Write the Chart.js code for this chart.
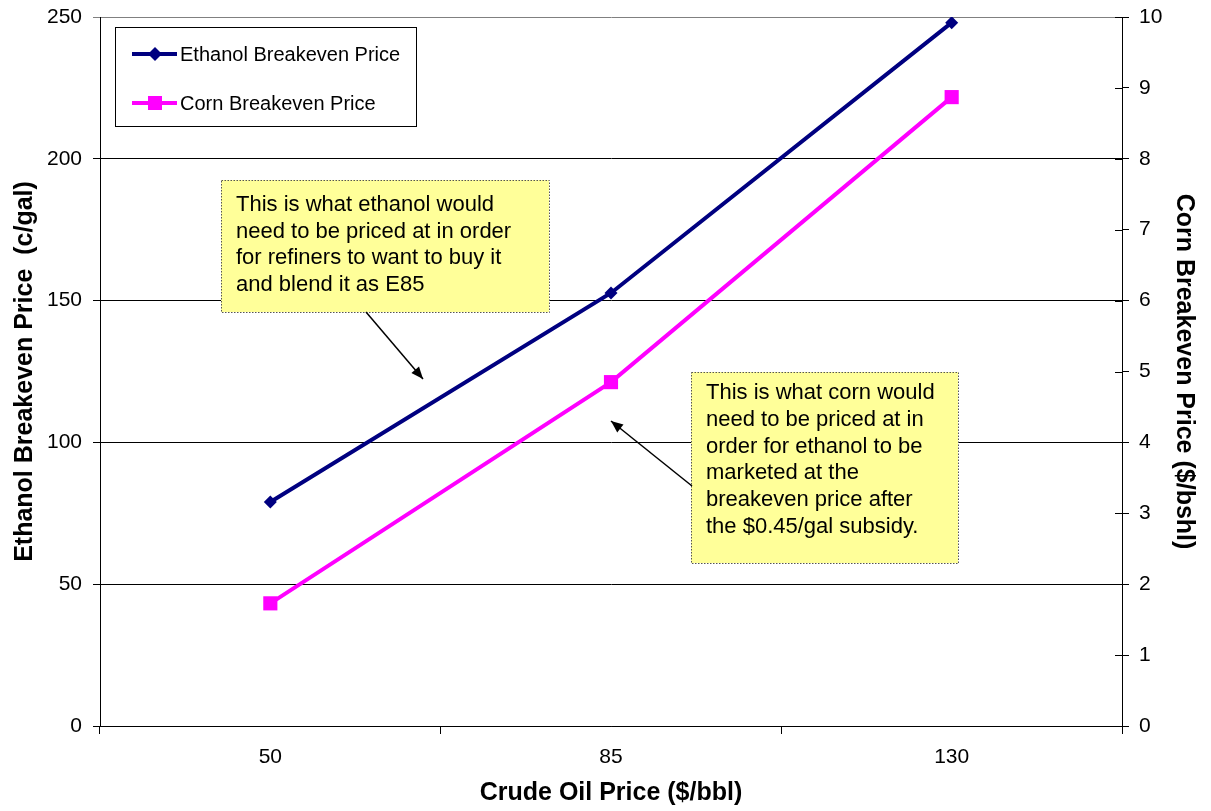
<!DOCTYPE html>
<html><head><meta charset="utf-8">
<script src="https://cdn.jsdelivr.net/npm/chart.js@4/dist/chart.umd.min.js"></script>
<style>html,body{margin:0;padding:0;background:#fff}#wrap{width:1211px;height:811px;position:relative}</style>
</head><body><div id="wrap"><canvas id="c" width="1211" height="811"></canvas></div>
<script>
const categories = ['50', '85', '130'];
const ethanolPrice = [79, 152.7, 248];
const cornPrice = [1.73, 4.85, 8.87];
const leftTicks = [0, 50, 100, 150, 200, 250];
const rightTicks = [0, 1, 2, 3, 4, 5, 6, 7, 8, 9, 10];
const seriesNames = ['Ethanol Breakeven Price', 'Corn Breakeven Price'];
const note1 = ['This is what ethanol would', 'need to be priced at in order', 'for refiners to want to buy it', 'and blend it as E85'];
const note2 = ['This is what corn would', 'need to be priced at in', 'order for ethanol to be', 'marketed at the', 'breakeven price after', 'the $0.45/gal subsidy.'];

const FONT = 'Liberation Sans, Arial, sans-serif';
const NAVY = '#000080', MAG = '#FF00FF';

function arrow(ctx, x1, y1, x2, y2) {
  ctx.save();
  ctx.strokeStyle = '#000'; ctx.fillStyle = '#000'; ctx.lineWidth = 1.5;
  ctx.beginPath(); ctx.moveTo(x1, y1); ctx.lineTo(x2, y2); ctx.stroke();
  const a = Math.atan2(y2 - y1, x2 - x1), L = 12, W = 5;
  ctx.beginPath();
  ctx.moveTo(x2, y2);
  ctx.lineTo(x2 - L * Math.cos(a) + W * Math.sin(a), y2 - L * Math.sin(a) - W * Math.cos(a));
  ctx.lineTo(x2 - L * Math.cos(a) - W * Math.sin(a), y2 - L * Math.sin(a) + W * Math.cos(a));
  ctx.closePath(); ctx.fill();
  ctx.restore();
}
function noteBox(ctx, x, y, w, h, lines, ty, lh) {
  ctx.save();
  ctx.fillStyle = '#FFFF99';
  ctx.fillRect(x, y, w, h);
  ctx.strokeStyle = '#555'; ctx.lineWidth = 1; ctx.setLineDash([1.5, 1.5]);
  ctx.strokeRect(x + 0.5, y + 0.5, w, h);
  ctx.setLineDash([]);
  ctx.fillStyle = '#000'; ctx.font = '22px ' + FONT; ctx.textBaseline = 'middle'; ctx.textAlign = 'left';
  lines.forEach((t, i) => ctx.fillText(t, x + 15, ty + i * lh));
  ctx.restore();
}

const decor = {
  id: 'decor',
  afterDatasetsDraw(chart) {
    const ctx = chart.ctx;
    const r = chart.scales.y1;
    ctx.save();
    ctx.strokeStyle = '#000'; ctx.lineWidth = 1;
    rightTicks.forEach(v => {
      const yy = Math.round(r.getPixelForValue(v)) + 0.5;
      ctx.beginPath(); ctx.moveTo(r.left - 7, yy); ctx.lineTo(r.left, yy); ctx.stroke();
    });
    ctx.restore();
    // legend
    ctx.save();
    ctx.fillStyle = '#fff'; ctx.fillRect(115, 27, 301, 99);
    ctx.strokeStyle = '#000'; ctx.lineWidth = 1; ctx.strokeRect(115.5, 27.5, 301, 99);
    const ys = [54, 103];
    const cols = [NAVY, MAG];
    ys.forEach((yy, i) => {
      ctx.strokeStyle = cols[i]; ctx.fillStyle = cols[i]; ctx.lineWidth = 4;
      ctx.beginPath(); ctx.moveTo(132, yy); ctx.lineTo(177, yy); ctx.stroke();
      ctx.beginPath();
      if (i === 0) { ctx.moveTo(155, yy - 7); ctx.lineTo(162, yy); ctx.lineTo(155, yy + 7); ctx.lineTo(148, yy); ctx.closePath(); }
      else { ctx.rect(148, yy - 7, 14, 14); }
      ctx.fill();
      ctx.fillStyle = '#000'; ctx.font = '20px ' + FONT; ctx.textBaseline = 'middle';
      ctx.fillText(seriesNames[i], 180, yy + 1);
    });
    ctx.restore();
    noteBox(ctx, 221, 180, 328, 132, note1, 205, 26.5);
    noteBox(ctx, 691, 372, 267, 191, note2, 393, 26.8);
    arrow(ctx, 366, 312, 423, 379);
    arrow(ctx, 692, 486, 611, 421);
  }
};

new Chart(document.getElementById('c'), {
  type: 'line',
  data: {
    labels: categories,
    datasets: [
      { label: seriesNames[0], data: ethanolPrice, yAxisID: 'y', borderColor: NAVY, backgroundColor: NAVY,
        borderWidth: 4, pointStyle: 'rectRot', pointRadius: 6.5, pointBorderWidth: 0, tension: 0 },
      { label: seriesNames[1], data: cornPrice, yAxisID: 'y1', borderColor: MAG, backgroundColor: MAG,
        borderWidth: 4, pointStyle: 'rect', pointRadius: 10, pointBorderWidth: 0, tension: 0 }
    ]
  },
  options: {
    responsive: false, animation: false,
    layout: { padding: { top: 17, left: 0, right: 0, bottom: 0 } },
    plugins: { legend: { display: false }, tooltip: { enabled: false } },
    scales: {
      x: {
        offset: true,
        grid: { display: true, drawOnChartArea: false, offset: true, tickLength: 8, color: '#000' },
        border: { display: true, color: '#000', width: 1 },
        ticks: { font: { size: 21, family: FONT }, color: '#000', padding: 11 },
        title: { display: true, text: 'Crude Oil Price ($/bbl)', font: { size: 25, weight: 'bold', family: FONT }, color: '#000', padding: { top: 0, bottom: 3 } },
        afterFit(s) { s.height = 85; s.paddingLeft = 0; s.paddingRight = 0; }
      },
      y: {
        position: 'left', min: 0, max: 250,
        afterBuildTicks(s) { s.ticks = leftTicks.map(v => ({ value: v })); },
        grid: { color: c => c.tick && c.tick.value === 250 ? '#808080' : '#000', tickLength: 7, lineWidth: 1 },
        border: { display: true, color: '#000', width: 1 },
        ticks: { font: { size: 21, family: FONT }, color: '#000', padding: 11 },
        title: { display: true, text: 'Ethanol Breakeven Price  (c/gal)', font: { size: 25, weight: 'bold', family: FONT }, color: '#000', padding: { top: 10, bottom: 0 } },
        afterFit(s) { s.width = 100; s.paddingTop = 0; s.paddingBottom = 0; }
      },
      y1: {
        position: 'right', min: 0, max: 10,
        afterBuildTicks(s) { s.ticks = rightTicks.map(v => ({ value: v })); },
        grid: { drawOnChartArea: false, tickLength: 7, color: '#000' },
        border: { display: true, color: '#000', width: 1 },
        ticks: { font: { size: 21, family: FONT }, color: '#000', padding: 10 },
        title: { display: true, text: 'Corn Breakeven Price ($/bshl)', font: { size: 25, weight: 'bold', family: FONT }, color: '#000', padding: { top: 12, bottom: 0 } },
        afterFit(s) { s.width = 89; s.paddingTop = 0; s.paddingBottom = 0; }
      }
    }
  },
  plugins: [decor]
});
</script></body></html>
